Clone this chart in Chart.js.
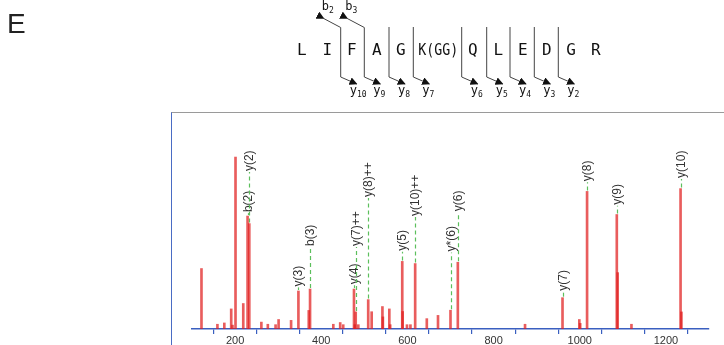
<!DOCTYPE html>
<html>
<head>
<meta charset="utf-8">
<script src="https://cdn.jsdelivr.net/npm/chart.js@4.4.1/dist/chart.umd.min.js"></script>
<style>
  html, body { margin: 0; padding: 0; background: #fff; }
  #wrap { position: relative; width: 724px; height: 345px; overflow: hidden; }
  #spec { position: absolute; left: 0; top: 0; }
  #frame { position: absolute; left: 171px; top: 112px; width: 560px; height: 240px;
           border-left: 1.5px solid #4a6cc4; border-top: 1.5px solid #9a9a9a; }
  #pep { position: absolute; left: 0; top: 0; }
</style>
</head>
<body>
<div id="wrap">
  <div id="frame"></div>
  <canvas id="spec" width="724" height="345"></canvas>
  <svg id="pep" width="724" height="110" xmlns="http://www.w3.org/2000/svg">
    <defs>
      <marker id="ah" viewBox="0 0 10 10" refX="9" refY="5" markerWidth="8" markerHeight="8"
              markerUnits="userSpaceOnUse" orient="auto">
        <path d="M0,0 L10,5 L0,10 z" fill="#111"/>
      </marker>
    </defs>
    <text x="7" y="33" font-family="Liberation Sans, Arial, sans-serif" font-size="28" fill="#222">E</text>
    <g id="residues" font-family="DejaVu Sans Mono, monospace" font-size="16" fill="#111" text-anchor="middle"></g>
    <g id="cuts" stroke="#444" stroke-width="1" fill="none"></g>
    <g id="ions" font-family="DejaVu Sans Mono, monospace" font-size="12" fill="#111"></g>
  </svg>
</div>
<script>
// spectrum peaks (m/z, relative intensity)
const mz = [122, 159, 175, 191, 194, 201, 219, 229, 233, 261, 276, 294, 301, 330,
  347, 371, 374, 428, 444, 451, 476, 478, 480, 486, 509, 517, 542, 543, 558, 560,
  588, 589, 599, 607, 618, 645, 671, 700, 717, 873, 960, 999, 1001, 1017, 1086,
  1088, 1120, 1234, 1236];
const intensity = [28, 2.2, 2.8, 9.3, 1.8, 79.6, 11.8, 52.3, 48.8, 3.2, 2.2, 2, 4.4, 4,
  17.6, 8.6, 18.5, 2.2, 3, 2, 18.5, 2, 7.9, 2, 13.6, 8, 10.4, 5.6, 9.3, 2,
  31.3, 8.1, 2, 2, 30.3, 4.8, 6.3, 8.7, 30.9, 2.2, 14.5, 4.4, 2.6, 63.7, 53,
  26.1, 2.2, 65, 7.9];

// matched fragment ions
const ionMz = [229, 233, 347, 374, 476, 480, 509, 588, 618, 700, 717, 960, 1017, 1086, 1234];
const ionLabels = ["b(2)", "y(2)", "y(3)", "b(3)", "y(4)", "y(7)++", "y(8)++", "y(5)",
  "y(10)++", "y*(6)", "y(6)", "y(7)", "y(8)", "y(9)", "y(10)"];

// x axis
const xMin = 100, xMax = 1300, xStep = 100, xLabelStep = 200;

// peptide sequence and fragment marks
const residues = ["L", "I", "F", "A", "G", "K(GG)", "Q", "L", "E", "D", "G", "R"];
const yIons = ["10", "9", "8", "7", "", "6", "5", "4", "3", "2"];
const bIons = ["", "2", "3"];

// label heights (layout only), same order as ionLabels
const labelLevel = [53.2, 72.2, 18.8, 37.5, 19.8, 37.5, 60.2, 35.3, 51.4, 35, 53.6, 16.8, 67.5, 56.6, 69];

const labelPlugin = {
  id: "ionLabels",
  afterDatasetsDraw(chart) {
    const ctx = chart.ctx;
    const meta = chart.getDatasetMeta(0);
    const ys = chart.scales.y;
    ctx.save();
    ionMz.forEach((m, i) => {
      const el = meta.data[mz.indexOf(m)];
      if (!el) return;
      const x = Math.round(el.x) + 0.5;
      const bottom = ys.getPixelForValue(labelLevel[i]);
      ctx.strokeStyle = "#5cbf5c";
      ctx.lineWidth = 1.2;
      ctx.setLineDash([4, 3]);
      ctx.beginPath();
      ctx.moveTo(x, el.y - 1);
      ctx.lineTo(x, bottom - 1);
      ctx.stroke();
      ctx.setLineDash([]);
      ctx.translate(x, bottom - 2);
      ctx.rotate(-Math.PI / 2);
      ctx.fillStyle = "#333";
      ctx.font = "12px 'Liberation Sans', Arial, sans-serif";
      ctx.textAlign = "left";
      ctx.textBaseline = "middle";
      ctx.fillText(ionLabels[i], 0, 0);
      ctx.setTransform(1, 0, 0, 1, 0, 0);
    });
    ctx.restore();
  },
};

new Chart("spec", {
  type: "bar",
  data: {
    datasets: [{
      data: mz.map((m, i) => ({ x: m, y: intensity[i] })),
      backgroundColor: "rgba(225, 30, 30, 0.72)",
      borderWidth: 0,
      barThickness: 2,
    }],
  },
  options: {
    responsive: false,
    animation: false,
    layout: { padding: { left: 192, right: 15, top: 113, bottom: 0 } },
    plugins: { legend: { display: false }, tooltip: { enabled: false } },
    scales: {
      x: {
        type: "linear",
        min: xMin,
        max: xMax,
        offset: false,
        afterFit(scale) { scale.height = 16; },
        border: { color: "#3a5fc0", width: 1.5 },
        grid: { drawOnChartArea: false, drawTicks: true, tickLength: 5, color: "#3a5fc0", lineWidth: 1.2 },
        ticks: {
          stepSize: xStep,
          padding: 0,
          maxRotation: 0,
          autoSkip: false,
          color: "#333",
          font: { family: "'Liberation Sans', Arial, sans-serif", size: 11 },
          callback: (v) => (v % xLabelStep === 0 && v > xMin && v < xMax ? String(v) : ""),
        },
      },
      y: { display: false, min: 0, max: 100 },
    },
  },
  plugins: [labelPlugin],
});

// peptide fragmentation diagram
const NS = "http://www.w3.org/2000/svg";
const resX = [301.7, 327.3, 351.7, 376.7, 400.7, 438.3, 472.7, 498.3, 522.7, 546.7, 571, 595.7];
const cutX = [340.7, 364.3, 389, 413.3, 0, 461.7, 486.7, 510, 534.3, 558.3];
const resG = document.getElementById("residues");
residues.forEach((r, i) => {
  const t = document.createElementNS(NS, "text");
  t.setAttribute("x", resX[i]);
  t.setAttribute("y", 55);
  if (r.length > 1) {
    t.setAttribute("textLength", 40);
    t.setAttribute("lengthAdjust", "spacingAndGlyphs");
  }
  t.textContent = r;
  resG.appendChild(t);
});
const cutG = document.getElementById("cuts");
const ionG = document.getElementById("ions");
cutX.forEach((cx, i) => {
  if (!yIons[i]) return;
  let d = `M${cx},27 L${cx},77 L${cx + 16},84`;
  const b = bIons[i + 1];
  if (b) d = `M${cx - 17},18.5 L${cx},27.5 L${cx},77 L${cx + 16},84`;
  const p = document.createElementNS(NS, "path");
  p.setAttribute("d", d);
  p.setAttribute("marker-end", "url(#ah)");
  if (b) p.setAttribute("marker-start", "url(#ah)");
  cutG.appendChild(p);
  const t = document.createElementNS(NS, "text");
  t.setAttribute("x", cx + 9);
  t.setAttribute("y", 94);
  t.innerHTML = `y<tspan font-size="8" dy="3">${yIons[i]}</tspan>`;
  ionG.appendChild(t);
  if (b) {
    const bt = document.createElementNS(NS, "text");
    bt.setAttribute("x", cx - 19);
    bt.setAttribute("y", 10);
    bt.innerHTML = `b<tspan font-size="8" dy="3">${b}</tspan>`;
    ionG.appendChild(bt);
  }
});
</script>
</body>
</html>
